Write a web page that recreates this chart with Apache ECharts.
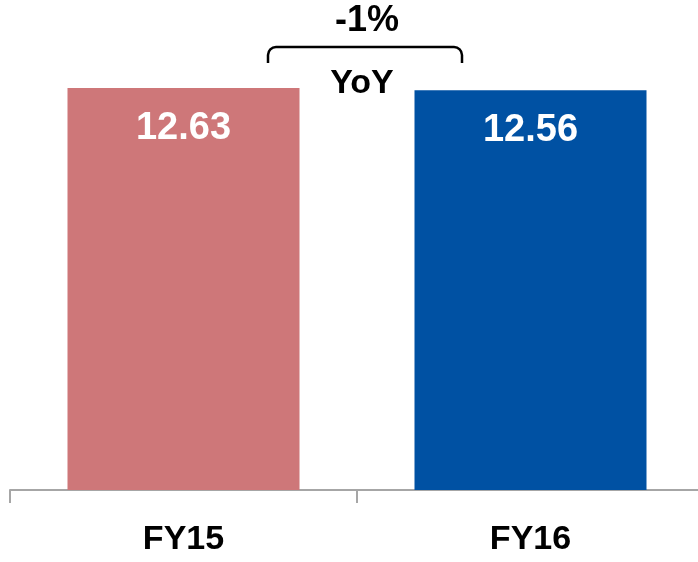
<!DOCTYPE html>
<html>
<head>
<meta charset="utf-8">
<script src="https://cdn.jsdelivr.net/npm/echarts@6/dist/echarts.min.js"></script>
<style>
html,body{margin:0;padding:0;background:#fff;overflow:hidden;}
#chart{width:704px;height:562px;}
</style>
</head>
<body>
<div id="chart"></div>
<script>
const categories = ['FY15', 'FY16'];
const values = [12.63, 12.56];
const barColors = ['#CE7779', '#0051A3'];
const changeLabel = '-1%';
const changeSub = 'YoY';

const FONT = '"Liberation Sans", Arial, sans-serif';
const chart = echarts.init(document.getElementById('chart'));
const stroke = { stroke: '#000', lineWidth: 2.5, fill: null };

chart.setOption({
  animation: false,
  grid: { left: 10, top: 12.6, right: 0, bottom: 72, containLabel: false },
  xAxis: {
    type: 'category',
    data: categories,
    axisLine: { lineStyle: { color: '#A6A6A6', width: 2 } },
    axisTick: { show: true, length: 13, lineStyle: { color: '#A6A6A6', width: 2 } },
    axisLabel: { color: '#000', fontSize: 34, fontWeight: 'bold', fontFamily: FONT, margin: 33 }
  },
  yAxis: { type: 'value', min: 0, max: 15, show: false },
  series: [{
    type: 'bar',
    barWidth: 232,
    data: values.map((v, i) => ({ value: v, itemStyle: { color: barColors[i] } })),
    label: {
      show: true,
      position: 'insideTop',
      distance: 21,
      color: '#fff',
      fontSize: 38,
      fontWeight: 'bold',
      fontFamily: FONT,
      formatter: p => p.value.toFixed(2)
    }
  }],
  graphic: [
    { type: 'line', shape: { x1: 268, y1: 63, x2: 268, y2: 55 }, style: stroke },
    { type: 'arc', shape: { cx: 276, cy: 55, r: 8, startAngle: Math.PI, endAngle: 1.5 * Math.PI, clockwise: true }, style: stroke },
    { type: 'line', shape: { x1: 276, y1: 47, x2: 454, y2: 47 }, style: stroke },
    { type: 'arc', shape: { cx: 454, cy: 55, r: 8, startAngle: 1.5 * Math.PI, endAngle: 2 * Math.PI, clockwise: true }, style: stroke },
    { type: 'line', shape: { x1: 462, y1: 55, x2: 462, y2: 63 }, style: stroke },
    { type: 'text', x: 367, y: 21, style: { text: changeLabel, fill: '#000', font: 'bold 36px ' + FONT, textAlign: 'center', textVerticalAlign: 'middle' } },
    { type: 'text', x: 362, y: 84, style: { text: changeSub, fill: '#000', font: 'bold 34px ' + FONT, textAlign: 'center', textVerticalAlign: 'middle' } }
  ]
});
</script>
</body>
</html>
